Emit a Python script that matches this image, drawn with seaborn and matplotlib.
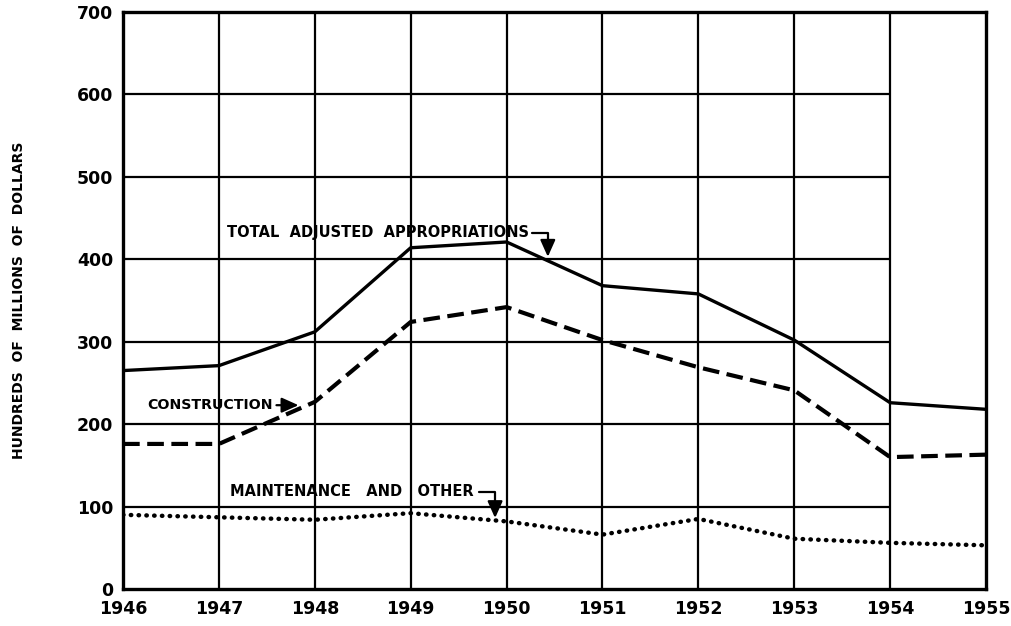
import matplotlib
matplotlib.use("Agg")
import matplotlib.pyplot as plt
import seaborn as sns
import pandas as pd

years = [1946, 1947, 1948, 1949, 1950, 1951, 1952, 1953, 1954, 1955]
total = [265, 271, 312, 414, 421, 368, 358, 302, 226, 218]
construction = [176, 176, 227, 324, 342, 302, 269, 241, 160, 163]
maintenance = [90, 87, 84, 92, 82, 66, 85, 61, 56, 53]
yticks = [0, 100, 200, 300, 400, 500, 600, 700]

sns.set_theme(style="white")
plt.rcParams['font.family'] = ['DejaVu Sans']

fig = plt.figure(figsize=(10.11, 6.26), dpi=100)
ax = fig.add_axes([0.1217, 0.0591, 0.9753 - 0.1217, 0.9808 - 0.0591])

df = pd.DataFrame({"year": years, "total": total,
                   "construction": construction, "maintenance": maintenance})

# grid
ax.hlines(yticks[1:-1], years[0], years[-2], colors="black", linewidth=1.6, zorder=1)
ax.vlines(years[1:-1], 0, 700, colors="black", linewidth=1.6, zorder=1)

sns.lineplot(data=df, x="year", y="total", ax=ax, color="black", linewidth=2.4,
             zorder=3)
sns.lineplot(data=df, x="year", y="construction", ax=ax, color="black",
             linewidth=3.0, linestyle=(0, (4, 1.8)), zorder=3)
sns.lineplot(data=df, x="year", y="maintenance", ax=ax, color="black",
             linewidth=3.2, linestyle=(0, (0.1, 1.65)), zorder=3)
ax.lines[-1].set_dash_capstyle("round")

ax.set_xlim(years[0], years[-1])
ax.set_ylim(0, 700)
ax.set_xticks(years)
ax.set_yticks(yticks)
ax.set_xticklabels([str(y) for y in years], fontsize=12.5, fontweight="bold")
ax.set_yticklabels([str(v) for v in yticks], fontsize=12.5, fontweight="bold")
ax.tick_params(axis="both", length=0, colors="black")
ax.tick_params(axis="y", pad=7)
ax.tick_params(axis="x", pad=8)
ax.set_xlabel("")
ax.set_ylabel("HUNDREDS  OF  MILLIONS  OF  DOLLARS", fontsize=10,
              fontweight="bold", color="black")
ax.yaxis.set_label_coords(-0.112, 0.5)
for s in ax.spines.values():
    s.set_color("black")
    s.set_linewidth(2.4)

arrow = dict(arrowstyle="-|>,head_length=0.85,head_width=0.38", color="black",
             lw=1.6, shrinkA=0, shrinkB=0)
lab = dict(fontsize=10.5, fontweight="bold", color="black", va="center", zorder=5)

ax.text(1947.08, 432, "TOTAL  ADJUSTED  APPROPRIATIONS", ha="left", **lab)
ax.annotate("", xy=(1950.43, 403), xytext=(1950.26, 432),
            arrowprops=dict(connectionstyle="angle,angleA=0,angleB=90,rad=0", **arrow))
ax.text(1946.25, 223, "CONSTRUCTION", ha="left", fontsize=10.2,
        fontweight="bold", color="black", va="center", zorder=5)
ax.annotate("", xy=(1947.83, 223), xytext=(1947.6, 223), arrowprops=arrow)
ax.text(1947.12, 118, "MAINTENANCE   AND   OTHER", ha="left", **lab)
ax.annotate("", xy=(1949.88, 86), xytext=(1949.71, 118),
            arrowprops=dict(connectionstyle="angle,angleA=0,angleB=90,rad=0", **arrow))

fig.savefig("out.png", dpi=100, facecolor="white")
